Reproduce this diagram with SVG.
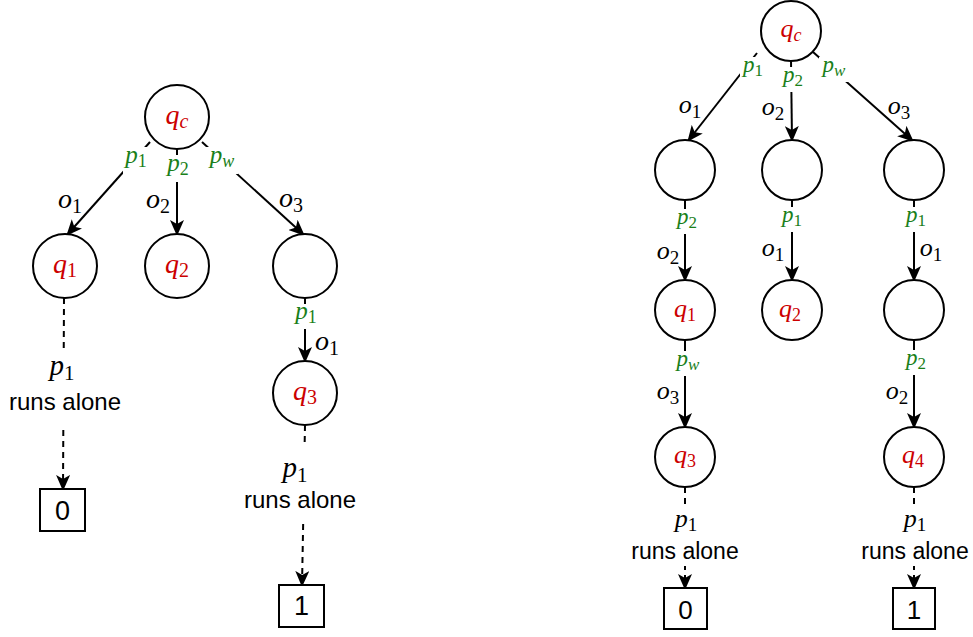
<svg xmlns="http://www.w3.org/2000/svg" width="973" height="637" viewBox="0 0 973 637">
<style>
.n{fill:#fff;stroke:#000;stroke-width:2}
.e{fill:none;stroke:#000;stroke-width:2;marker-end:url(#arr)}
.d{stroke-dasharray:6 5}
.bg{fill:#fff;stroke:none}
.m{font-family:"Liberation Serif","DejaVu Serif",serif;font-style:italic;text-anchor:middle}
.up{font-style:normal}
.r{fill:#cc0000}
.g{fill:#1a7f1a}
.k{fill:#000}
.s{font-family:"Liberation Sans",Arial,sans-serif;text-anchor:middle;fill:#000}
</style>
<defs>
<marker id="arr" markerUnits="userSpaceOnUse" markerWidth="16" markerHeight="14" viewBox="0 0 16 14" refX="15" refY="7" orient="auto">
<path d="M0,0 L16,7 L0,14 L4,7 z" fill="#000"/>
</marker>
</defs>

<g id="connectors">
<!-- left tree -->
<line class="e" x1="150" y1="142" x2="67" y2="235"/>
<line class="e" x1="177" y1="149" x2="177" y2="235"/>
<line class="e" x1="202" y1="142" x2="304" y2="235"/>
<line class="e" x1="305" y1="298" x2="305" y2="362"/>
<line class="e d" x1="64" y1="298" x2="63" y2="490"/>
<line class="e d" x1="305" y1="425" x2="302" y2="586"/>
<!-- right tree -->
<line class="e" x1="757" y1="53" x2="688" y2="141"/>
<line class="e" x1="791" y1="60" x2="792" y2="141"/>
<line class="e" x1="813" y1="52" x2="913" y2="141"/>
<line class="e" x1="685" y1="200" x2="685" y2="281"/>
<line class="e" x1="792" y1="200" x2="792" y2="281"/>
<line class="e" x1="914" y1="200" x2="914" y2="281"/>
<line class="e" x1="685" y1="340" x2="685" y2="428"/>
<line class="e" x1="914" y1="340" x2="914" y2="428"/>
<line class="e d" x1="685" y1="487" x2="685" y2="589"/>
<line class="e d" x1="914" y1="487" x2="914" y2="589"/>
</g>

<g id="edge-labels">
<!-- left -->
<rect class="bg" x="123" y="147" width="28" height="27"/>
<text class="m g" x="136" y="163" font-size="25">p<tspan class="up" font-size="18" dy="4">1</tspan></text>
<rect class="bg" x="165" y="155" width="27" height="27"/>
<text class="m g" x="178" y="171" font-size="25">p<tspan class="up" font-size="18" dy="4">2</tspan></text>
<rect class="bg" x="206" y="147" width="32" height="27"/>
<text class="m g" x="222" y="163" font-size="25">p<tspan font-size="18" dy="4">w</tspan></text>
<text class="m k" x="70" y="208" font-size="28">o<tspan class="up" font-size="20" dy="5">1</tspan></text>
<text class="m k" x="158" y="208" font-size="28">o<tspan class="up" font-size="20" dy="5">2</tspan></text>
<text class="m k" x="291" y="207" font-size="28">o<tspan class="up" font-size="20" dy="5">3</tspan></text>
<rect class="bg" x="293" y="304" width="27" height="25"/>
<text class="m g" x="306" y="319" font-size="25">p<tspan class="up" font-size="18" dy="4">1</tspan></text>
<text class="m k" x="327" y="350" font-size="28">o<tspan class="up" font-size="20" dy="5">1</tspan></text>
<rect class="bg" x="8" y="353" width="114" height="73"/>
<text class="m k" x="62" y="375" font-size="29">p<tspan class="up" font-size="21" dy="5">1</tspan></text>
<text class="s" x="65" y="410" font-size="24">runs alone</text>
<rect class="bg" x="238" y="444" width="126" height="78"/>
<text class="m k" x="295" y="477" font-size="29">p<tspan class="up" font-size="21" dy="5">1</tspan></text>
<text class="s" x="300" y="508" font-size="24">runs alone</text>
<!-- right -->
<rect class="bg" x="740" y="57" width="26" height="25"/>
<text class="m g" x="753" y="72" font-size="23">p<tspan class="up" font-size="17" dy="4">1</tspan></text>
<rect class="bg" x="780" y="67" width="26" height="25"/>
<text class="m g" x="793" y="82" font-size="23">p<tspan class="up" font-size="17" dy="4">2</tspan></text>
<rect class="bg" x="819" y="57" width="31" height="25"/>
<text class="m g" x="834" y="72" font-size="23">p<tspan font-size="17" dy="4">w</tspan></text>
<text class="m k" x="690" y="113" font-size="26">o<tspan class="up" font-size="19" dy="5">1</tspan></text>
<text class="m k" x="773" y="115" font-size="26">o<tspan class="up" font-size="19" dy="5">2</tspan></text>
<text class="m k" x="899" y="114" font-size="26">o<tspan class="up" font-size="19" dy="5">3</tspan></text>
<rect class="bg" x="674" y="209" width="26" height="25"/>
<text class="m g" x="687" y="224" font-size="23">p<tspan class="up" font-size="17" dy="4">2</tspan></text>
<rect class="bg" x="779" y="207" width="26" height="25"/>
<text class="m g" x="792" y="222" font-size="23">p<tspan class="up" font-size="17" dy="4">1</tspan></text>
<rect class="bg" x="903" y="207" width="26" height="25"/>
<text class="m g" x="916" y="222" font-size="23">p<tspan class="up" font-size="17" dy="4">1</tspan></text>
<text class="m k" x="668" y="259" font-size="26">o<tspan class="up" font-size="19" dy="5">2</tspan></text>
<text class="m k" x="773" y="256" font-size="26">o<tspan class="up" font-size="19" dy="5">1</tspan></text>
<text class="m k" x="931" y="256" font-size="26">o<tspan class="up" font-size="19" dy="5">1</tspan></text>
<rect class="bg" x="673" y="351" width="30" height="25"/>
<text class="m g" x="688" y="366" font-size="23">p<tspan font-size="17" dy="4">w</tspan></text>
<rect class="bg" x="903" y="350" width="26" height="25"/>
<text class="m g" x="916" y="365" font-size="23">p<tspan class="up" font-size="17" dy="4">2</tspan></text>
<text class="m k" x="668" y="399" font-size="26">o<tspan class="up" font-size="19" dy="5">3</tspan></text>
<text class="m k" x="897" y="399" font-size="26">o<tspan class="up" font-size="19" dy="5">2</tspan></text>
<rect class="bg" x="625" y="504" width="122" height="62"/>
<text class="m k" x="686" y="527" font-size="26">p<tspan class="up" font-size="19" dy="4">1</tspan></text>
<text class="s" x="685" y="559" font-size="23">runs alone</text>
<rect class="bg" x="855" y="504" width="118" height="62"/>
<text class="m k" x="915" y="527" font-size="26">p<tspan class="up" font-size="19" dy="4">1</tspan></text>
<text class="s" x="915" y="559" font-size="23">runs alone</text>
</g>

<!-- left nodes -->
<g id="L-qc"><circle class="n" cx="177" cy="117" r="32"/><text class="m r" x="177" y="124" font-size="28">q<tspan font-size="20" dy="4">c</tspan></text></g>
<g id="L-q1"><circle class="n" cx="65" cy="266" r="32"/><text class="m r" x="65" y="273" font-size="28">q<tspan class="up" font-size="20" dy="4">1</tspan></text></g>
<g id="L-q2"><circle class="n" cx="177" cy="266" r="32"/><text class="m r" x="177" y="273" font-size="28">q<tspan class="up" font-size="20" dy="4">2</tspan></text></g>
<g id="L-n3"><circle class="n" cx="305" cy="266" r="32"/></g>
<g id="L-q3"><circle class="n" cx="305" cy="393" r="32"/><text class="m r" x="305" y="400" font-size="28">q<tspan class="up" font-size="20" dy="4">3</tspan></text></g>
<g id="L-out0"><rect class="n" x="40" y="489" width="45" height="42"/><text class="s" x="62.5" y="520" font-size="27">0</text></g>
<g id="L-out1"><rect class="n" x="279" y="585" width="45" height="42"/><text class="s" x="301.5" y="615" font-size="27">1</text></g>

<!-- right nodes -->
<g id="R-qc"><circle class="n" cx="791" cy="31" r="30"/><text class="m r" x="791" y="37" font-size="26">q<tspan font-size="18" dy="4">c</tspan></text></g>
<g id="R-a"><circle class="n" cx="685" cy="170" r="30"/></g>
<g id="R-b"><circle class="n" cx="792" cy="170" r="30"/></g>
<g id="R-c"><circle class="n" cx="914" cy="170" r="30"/></g>
<g id="R-q1"><circle class="n" cx="685" cy="310" r="30"/><text class="m r" x="685" y="317" font-size="26">q<tspan class="up" font-size="18" dy="4">1</tspan></text></g>
<g id="R-q2"><circle class="n" cx="792" cy="310" r="30"/><text class="m r" x="790" y="317" font-size="26">q<tspan class="up" font-size="18" dy="4">2</tspan></text></g>
<g id="R-d"><circle class="n" cx="914" cy="310" r="30"/></g>
<g id="R-q3"><circle class="n" cx="685" cy="457" r="30"/><text class="m r" x="685" y="463" font-size="26">q<tspan class="up" font-size="18" dy="4">3</tspan></text></g>
<g id="R-q4"><circle class="n" cx="914" cy="457" r="30"/><text class="m r" x="913" y="463" font-size="26">q<tspan class="up" font-size="18" dy="4">4</tspan></text></g>
<g id="R-out0"><rect class="n" x="664" y="588" width="43" height="41"/><text class="s" x="685.5" y="619" font-size="26">0</text></g>
<g id="R-out1"><rect class="n" x="893" y="588" width="42" height="41"/><text class="s" x="914" y="619" font-size="26">1</text></g>
</svg>
